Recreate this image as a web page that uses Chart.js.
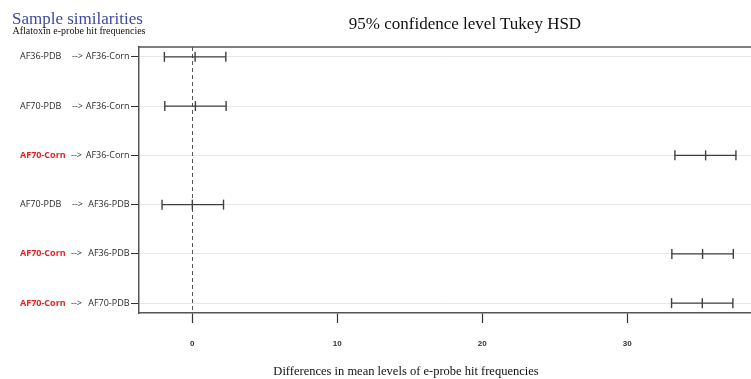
<!DOCTYPE html>
<html>
<head>
<meta charset="utf-8">
<script src="https://cdn.jsdelivr.net/npm/chart.js@4.4.1/dist/chart.umd.min.js"></script>
<style>
  html, body { margin: 0; padding: 0; background: #fff; }
  #wrap { position: relative; width: 751px; height: 379px; overflow: hidden; }
  canvas { position: absolute; left: 0; top: 0; }
  .t { position: absolute; white-space: nowrap; font-family: "Liberation Serif", "Times New Roman", serif; line-height: 1; }
  #brand { left: 12px; top: 10px; font-size: 17px; color: #3b4a9c; }
  #sub { left: 12.5px; top: 25.8px; font-size: 10px; color: #111; }
  #main { left: 0; width: 930px; text-align: center; top: 15px; font-size: 17px; color: #111; }
  #xt { left: 0; width: 812px; text-align: center; top: 365px; font-size: 12.5px; color: #111; }
</style>
</head>
<body>
<div id="wrap">
  <canvas id="c" width="751" height="379"></canvas>
  <div class="t" id="brand">Sample similarities</div>
  <div class="t" id="sub">Aflatoxin e-probe hit frequencies</div>
  <div class="t" id="main">95% confidence level Tukey HSD</div>
  <div class="t" id="xt">Differences in mean levels of e-probe hit frequencies</div>
</div>
<script>
// Tukey HSD pairwise comparisons (group A --> group B)
const fromGroups = ["AF36-PDB", "AF70-PDB", "AF70-Corn", "AF70-PDB", "AF70-Corn", "AF70-Corn"];
const toGroups   = ["AF36-Corn", "AF36-Corn", "AF36-Corn", "AF36-PDB", "AF36-PDB", "AF70-PDB"];
const highlight  = [false, false, true, false, true, true];
const diffs = [0.19, 0.21, 35.41, 0.00, 35.20, 35.18];
const lower = [-1.93, -1.90, 33.29, -2.09, 33.08, 33.06];
const upper = [2.31, 2.33, 37.50, 2.15, 37.32, 37.29];
const xTicks = [0, 10, 20, 30];
const rows = fromGroups.map((_, i) => i + 1);

const barColor = "#404040";

const intervalLines = rows.map((r, i) => ({
  type: "line",
  data: [{ x: lower[i], y: r }, { x: upper[i], y: r }],
  borderColor: barColor,
  borderWidth: 1.4,
  pointRadius: 0,
  fill: false
}));

const capSet = (vals) => ({
  type: "scatter",
  data: vals.map((v, i) => ({ x: v, y: rows[i] })),
  pointStyle: "line",
  rotation: 90,
  radius: 5,
  borderColor: barColor,
  borderWidth: 1.4,
  backgroundColor: barColor
});

const framePlugin = {
  id: "frame",
  beforeDatasetsDraw(chart) {
    const { ctx, chartArea: a, scales } = chart;
    const x0 = scales.x.getPixelForValue(0);
    ctx.save();
    ctx.strokeStyle = "#555";
    ctx.lineWidth = 1;
    ctx.setLineDash([4, 3]);
    ctx.beginPath();
    ctx.moveTo(Math.round(x0) + 0.5, a.top);
    ctx.lineTo(Math.round(x0) + 0.5, a.bottom);
    ctx.stroke();
    ctx.restore();
  },
  afterDraw(chart) {
    const { ctx, chartArea: a, scales } = chart;
    ctx.save();
    ctx.strokeStyle = "#555";
    ctx.lineWidth = 1.5;
    ctx.beginPath();
    ctx.moveTo(a.left, a.top);
    ctx.lineTo(a.right, a.top);
    ctx.stroke();

    ctx.textBaseline = "middle";
    rows.forEach((r, i) => {
      const y = scales.y.getPixelForValue(r);
      ctx.textAlign = "left";
      if (highlight[i]) {
        ctx.font = "bold 9px 'Open Sans'";
        ctx.fillStyle = "#e02424";
      } else {
        ctx.font = "9px 'Open Sans'";
        ctx.fillStyle = "#2a2a2a";
      }
      ctx.fillText(fromGroups[i], 20, y);
      ctx.font = "9px 'Open Sans'";
      ctx.fillStyle = "#2a2a2a";
      ctx.fillText("-->", highlight[i] ? 71 : 72, y);
      ctx.textAlign = "right";
      ctx.fillText(toGroups[i], 129.5, y);
    });
    ctx.restore();
  }
};

new Chart(document.getElementById("c"), {
  data: {
    datasets: [...intervalLines, capSet(lower), capSet(diffs), capSet(upper)]
  },
  options: {
    responsive: false,
    animation: false,
    devicePixelRatio: 1,
    layout: { autoPadding: false, padding: { top: 47, left: 0, right: 0, bottom: 0 } },
    plugins: { legend: { display: false }, tooltip: { enabled: false }, title: { display: false } },
    scales: {
      x: {
        type: "linear",
        min: -3.68,
        max: 38.54,
        afterBuildTicks: (s) => { s.ticks = xTicks.map(v => ({ value: v })); },
        afterFit: (s) => { s.height = 66; },
        grid: { drawOnChartArea: false, drawTicks: true, tickLength: 10, tickColor: "#333", tickWidth: 1.2 },
        border: { display: true, color: "#555", width: 1.5 },
        ticks: {
          padding: 16,
          color: "#333",
          font: { family: "'Liberation Sans Narrow', 'Arial Narrow', 'Liberation Sans', sans-serif", size: 8, weight: "bold" },
          maxRotation: 0
        }
      },
      y: {
        type: "linear",
        reverse: true,
        min: 0.8,
        max: 6.2,
        afterBuildTicks: (s) => { s.ticks = rows.map(v => ({ value: v })); },
        afterFit: (s) => { s.width = 139; },
        grid: { color: "#e8e8e8", lineWidth: 1, drawTicks: true, tickLength: 8, tickColor: "#333" },
        border: { display: true, color: "#555", width: 1.5 },
        ticks: { display: false }
      }
    }
  },
  plugins: [framePlugin]
});
</script>
</body>
</html>
